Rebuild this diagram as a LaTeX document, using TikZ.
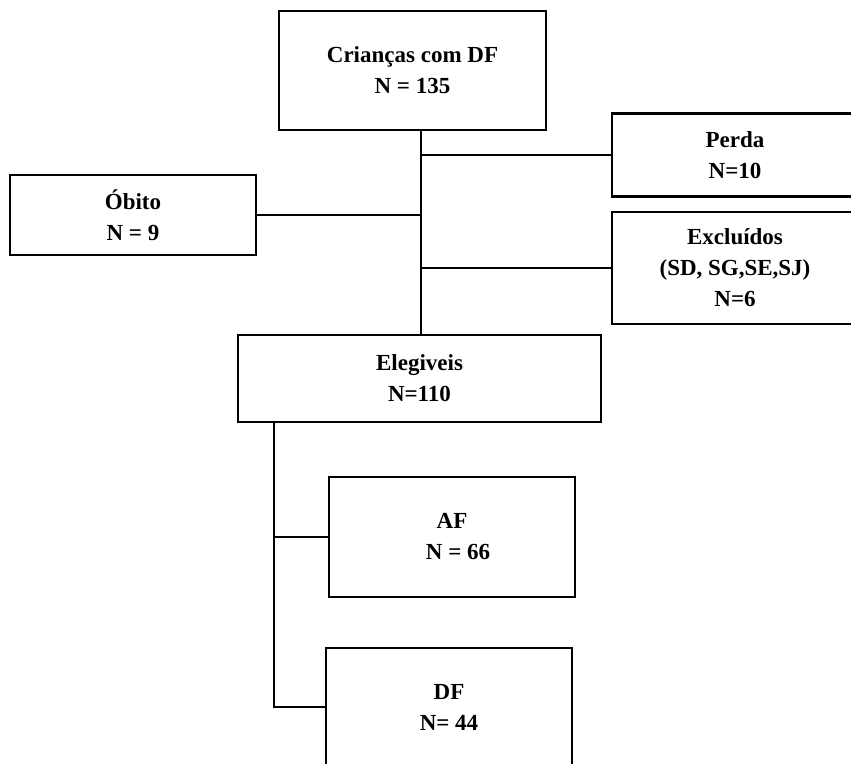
\documentclass[tikz,border=0pt]{standalone}
\usepackage{fontspec}
\setmainfont{Liberation Serif}
\usepackage{tikz}
\usetikzlibrary{calc}

\tikzset{
  caixa/.style={draw, line width=2.4pt, align=center, inner sep=0pt,
    font=\fontsize{23}{31}\selectfont\bfseries},
  ligacao/.style={line width=1.7pt}
}

\begin{document}
\begin{tikzpicture}[x=1pt,y=-1pt]

\useasboundingbox (0,0) rectangle (851,763);
\clip (0,0) rectangle (851,763);

\node[caixa, minimum width=267, minimum height=119] (criancas) at (412.5,70.5) {Crianças com DF\\N = 135};
\node[caixa, minimum width=246, minimum height=83] (perda) at (735,155) {Perda\\N=10};
\node[caixa, minimum width=246, minimum height=80] (obito) at (133,215) {Óbito\\N = 9};
\node[caixa, minimum width=246, minimum height=112] (excluidos) at (735,268) {Excluídos\\(SD, SG,SE,SJ)\\N=6};
\node[caixa, minimum width=363, minimum height=87] (elegiveis) at (419.5,378.5) {Elegiveis\\N=110};
\node[caixa, minimum width=246, minimum height=120] (af) at (452,537) {AF\\\hspace*{12pt}N = 66};
\node[caixa, minimum width=246, minimum height=118] (df) at (449,707) {DF\\N= 44};

% tronco principal
\coordinate (topo) at (criancas.south -| 421,0);
\coordinate (base) at (elegiveis.north -| 421,0);
\draw[ligacao] (topo) -- (base);
\draw[ligacao] (perda.west) -- (perda.west -| topo);
\draw[ligacao] (obito.east) -- (obito.east -| topo);
\draw[ligacao] (excluidos.west) -- (excluidos.west -| topo);

% ramo dos grupos
\coordinate (ramo) at (elegiveis.south -| 274,0);
\draw[ligacao] (ramo) -- (df.west -| ramo) -- (df.west);
\draw[ligacao] (af.west -| ramo) -- (af.west);

\end{tikzpicture}
\end{document}
